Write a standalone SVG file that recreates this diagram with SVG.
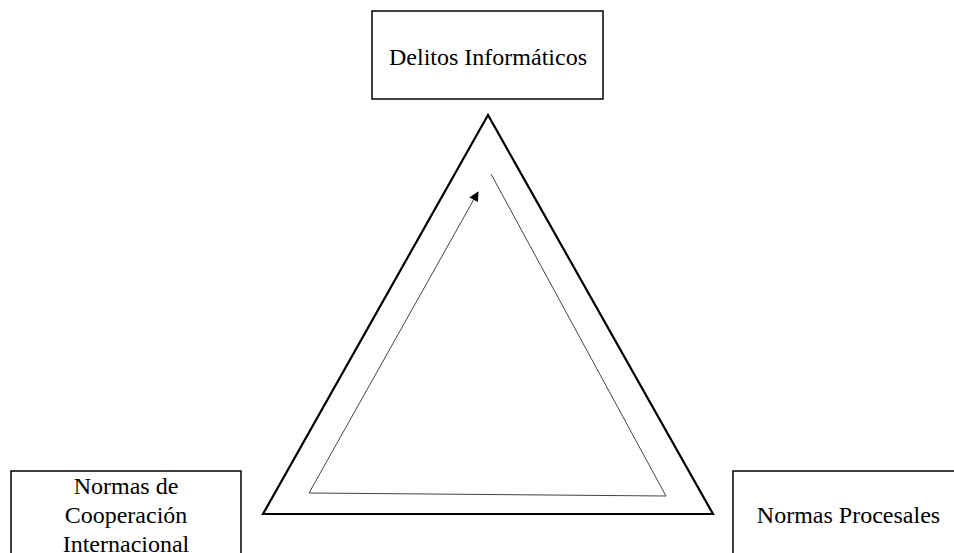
<svg xmlns="http://www.w3.org/2000/svg" width="954" height="553" viewBox="0 0 954 553">
<style>
.box{fill:#fff;stroke:#000;stroke-width:1.5}
.t{font-family:"Liberation Serif",serif;font-size:24px;fill:#000;text-anchor:middle}
</style>
<defs>
<marker id="ah" viewBox="0 0 10 10" refX="9" refY="5" markerWidth="10" markerHeight="10" markerUnits="userSpaceOnUse" orient="auto">
<path d="M0,0 L10,5 L0,10 z" fill="#000"/>
</marker>
</defs>
<rect width="954" height="553" fill="#fff"/>
<g id="connectors">
<polygon points="488,115 263,514 713,514" fill="none" stroke="#000" stroke-width="2.2" stroke-linejoin="miter"/>
<polyline points="491,174 666,496 309,493 478,192" fill="none" stroke="#444" stroke-width="1" marker-end="url(#ah)"/>
</g>
<g id="node-delitos">
<rect class="box" x="372" y="11" width="231" height="88"/>
<text class="t" x="488" y="65">Delitos Informáticos</text>
</g>
<g id="node-cooperacion">
<rect class="box" x="11" y="471" width="230" height="100"/>
<text class="t" x="126" y="494">Normas de</text>
<text class="t" x="126" y="523">Cooperación</text>
<text class="t" x="126" y="552">Internacional</text>
</g>
<g id="node-procesales">
<rect class="box" x="733" y="471" width="240" height="100"/>
<text class="t" x="848.5" y="523">Normas Procesales</text>
</g>
</svg>
